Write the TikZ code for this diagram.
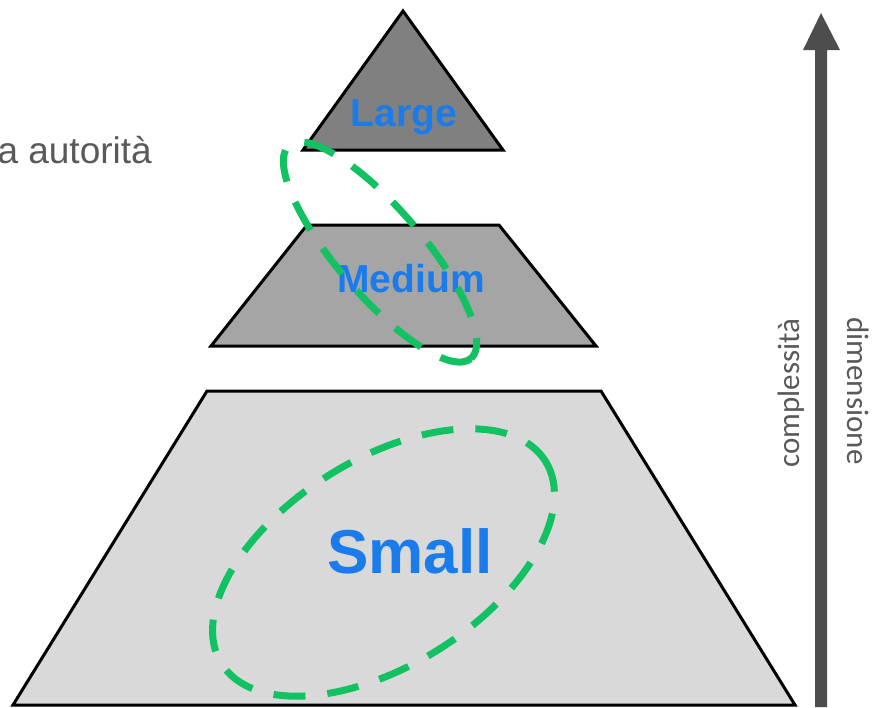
\documentclass[tikz,border=0pt]{standalone}
\usepackage{fontspec}
\setmainfont{Liberation Sans}
\newfontfamily\calib{Carlito}
\definecolor{lvlA}{HTML}{808080}
\definecolor{lvlB}{HTML}{A5A5A5}
\definecolor{lvlC}{HTML}{D9D9D9}
\definecolor{lblblue}{HTML}{1A7BEC}
\definecolor{grn}{HTML}{12C162}
\definecolor{txtgray}{HTML}{595959}
\definecolor{arrgray}{HTML}{4D4D4D}
\tikzset{
  level/.style={draw=black, line width=3pt, line join=miter},
  lbl/.style={text=lblblue, font=\bfseries\fontsize{39}{44}\selectfont, inner sep=0pt},
  grp/.style={draw=grn, line width=7pt, dash pattern=on 32pt off 22pt},
  side/.style={text=txtgray, font=\calib\fontsize{31}{36}\selectfont, inner sep=0pt}
}
\begin{document}
\begin{tikzpicture}[x=1pt,y=-1pt]
\useasboundingbox (0,0) rectangle (881,707);
% levels
\filldraw[level, fill=lvlA] (403,11) -- (503,150) -- (303,150) -- cycle;
\filldraw[level, fill=lvlB] (307,225) -- (499,225) -- (596,346) -- (211,346) -- cycle;
\filldraw[level, fill=lvlC] (207,391) -- (601,391) -- (795,705) -- (13,705) -- cycle;
% labels
\node[lbl] (large) at (404,117) {Large};
\node[lbl] (medium) at (411,279) {Medium};
\node[lbl, font=\bfseries\fontsize{62}{70}\selectfont] (small) at (410,551) {Small};
% dashed groups
\draw[grp, rotate around={-49.5:(380,252)}] (380,252) ellipse [x radius=140, y radius=43];
\draw[grp, rotate around={32:(383.5,562.5)}] (383.5,562.5) ellipse [x radius=191, y radius=103];
% left cut text
\node[text=txtgray, font=\fontsize{37}{42}\selectfont, anchor=base east, inner sep=0pt] (auth) at (152,163) {a autorità};
% arrow
\coordinate (abot) at (821,707);
\coordinate (atop) at (821,13);
\fill[arrgray] (815,707) -- (815,50) -- (803,50) -- (atop) -- (840,50) -- (827,50) -- (827,707) -- cycle;
% side texts
\node[side, rotate=90] (compl) at (791,393) {complessità};
\node[side, rotate=-90] (dim) at (858,391) {dimensione};
\end{tikzpicture}
\end{document}
